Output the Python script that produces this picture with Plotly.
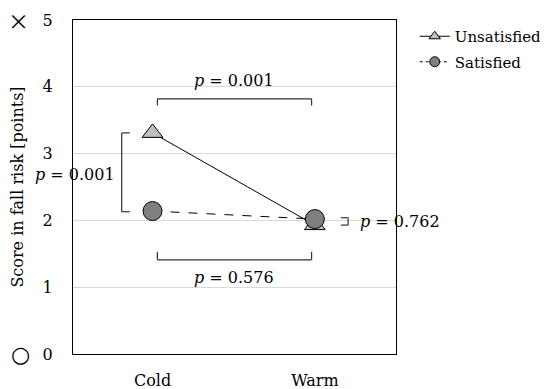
import plotly.graph_objects as go

categories = ["Cold", "Warm"]
unsatisfied = [3.31, 1.93]
satisfied = [2.14, 2.02]
y_ticks = [0, 1, 2, 3, 4, 5]

FONT = "DejaVu Serif"

fig = go.Figure()
fig.add_trace(go.Scatter(
    x=[0, 1], y=unsatisfied, name="Unsatisfied", mode="lines+markers", showlegend=False,
    line=dict(color="black", width=1),
    marker=dict(symbol="triangle-up", size=18, color="#bfbfbf", line=dict(color="black", width=1)),
))
fig.add_trace(go.Scatter(
    x=[0, 1], y=satisfied, name="Satisfied", mode="lines+markers", showlegend=False,
    line=dict(color="black", width=1, dash="dash"),
    marker=dict(symbol="circle", size=19, color="#7f7f7f", line=dict(color="black", width=1)),
))
# legend entries
fig.add_trace(go.Scatter(
    x=[None], y=[None], name="Unsatisfied", mode="lines+markers", legendgroup="u",
    line=dict(color="black", width=1),
    marker=dict(symbol="triangle-up", size=10, color="#bfbfbf", line=dict(color="black", width=1)),
))
fig.add_trace(go.Scatter(
    x=[None], y=[None], name="Satisfied", mode="lines+markers", legendgroup="s",
    line=dict(color="black", width=1, dash="dot"),
    marker=dict(symbol="circle", size=10, color="#7f7f7f", line=dict(color="black", width=1)),
))

line = dict(color="#333333", width=1.2)
def seg(x0, y0, x1, y1):
    fig.add_shape(type="line", x0=x0, y0=y0, x1=x1, y1=y1, xref="x", yref="y", line=line)

# top bracket (Cold vs Warm, unsatisfied)
seg(0.03, 3.82, 0.98, 3.82); seg(0.03, 3.82, 0.03, 3.72); seg(0.98, 3.82, 0.98, 3.72)
# bottom bracket (Cold vs Warm, satisfied)
seg(0.03, 1.41, 0.98, 1.41); seg(0.03, 1.41, 0.03, 1.53); seg(0.98, 1.41, 0.98, 1.53)
# left bracket (Cold)
seg(-0.19, 3.31, -0.19, 2.13); seg(-0.19, 3.31, -0.14, 3.31); seg(-0.19, 2.13, -0.14, 2.13)
# right small bracket (Warm)
seg(1.16, 2.04, 1.205, 2.04); seg(1.16, 1.93, 1.205, 1.93); seg(1.205, 2.04, 1.205, 1.93)

tf = dict(family=FONT, size=16, color="black")
fig.add_annotation(x=0.5, y=4.10, xref="x", yref="y", text="<i>p</i> = 0.001", showarrow=False, font=tf)
fig.add_annotation(x=0.5, y=1.15, xref="x", yref="y", text="<i>p</i> = 0.576", showarrow=False, font=tf)
fig.add_annotation(x=-0.475, y=2.68, xref="x", yref="y", text="<i>p</i> = 0.001", showarrow=False, font=tf)
fig.add_annotation(x=1.265, y=1.98, xref="x", yref="y", text="<i>p</i> = 0.762", showarrow=False, font=tf, xanchor="left")

fig.add_annotation(x=-0.170, y=5, xref="paper", yref="y", text="×", showarrow=False, xanchor="center",
                   borderpad=0, font=dict(family="Noto Sans CJK JP", size=21, color="black"))
fig.add_annotation(x=-0.164, y=0, xref="paper", yref="y", text="○", showarrow=False, xanchor="center",
                   borderpad=0, font=dict(family="DejaVu Sans", size=22, color="black"))

fig.update_layout(
    width=548, height=389,
    margin=dict(l=65, r=160, t=12, b=43, autoexpand=False),
    paper_bgcolor="white", plot_bgcolor="white",
    font=dict(family=FONT, size=16, color="black"),
    showlegend=True,
    legend=dict(x=1.058, y=1.0, xanchor="left", yanchor="top", itemsizing="trace",
                traceorder="grouped", font=dict(family=FONT, size=15),
                bgcolor="rgba(0,0,0,0)", tracegroupgap=3),
    xaxis=dict(range=[-0.49, 1.5], tickvals=[0, 1], ticktext=categories, showgrid=False,
               zeroline=False, showline=True, linecolor="black", linewidth=1.2, mirror=True,
               ticks="", ticklabelstandoff=12, tickfont=dict(family=FONT, size=16)),
    yaxis=dict(range=[0, 5], tickvals=y_ticks, showgrid=True, gridcolor="#d9d9d9", gridwidth=1.3,
               zeroline=False, showline=True, linecolor="black", linewidth=1.2, mirror=True,
               ticks="", ticklabelstandoff=16, tickfont=dict(family=FONT, size=16),
               title=dict(text="Score in fall risk [points]", font=dict(family=FONT, size=16), standoff=19)),
)

fig.write_html("out.html")
